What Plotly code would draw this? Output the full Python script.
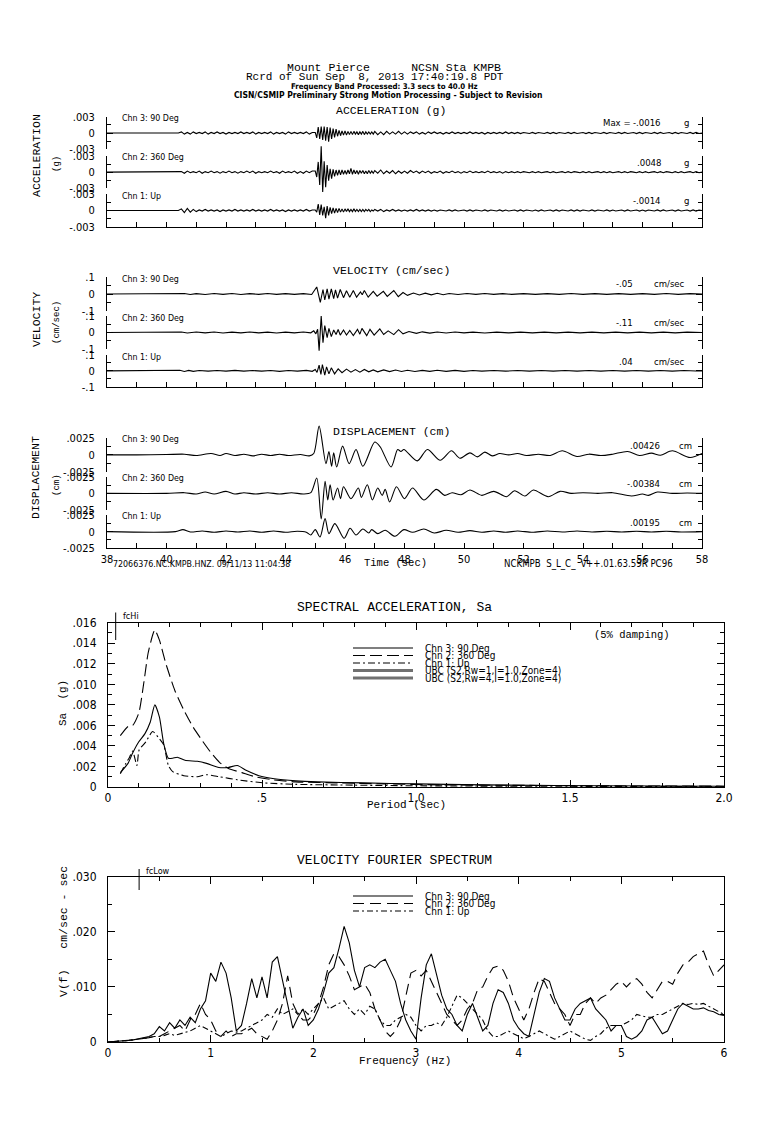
import numpy as np
import plotly.graph_objects as go

# ======================= DATA =======================
CHANNELS = ["Chn 3: 90 Deg", "Chn 2: 360 Deg", "Chn 1: Up"]
ACC_MAX = ["-.0016", ".0048", "-.0014"]
VEL_MAX = ["-.05", "-.11", ".04"]
DISP_MAX = [".00426", "-.00384", ".00195"]

ACC_UNIT = 1e-4    # g per listed unit
VEL_UNIT = 1e-3    # cm/sec per listed unit
DISP_UNIT = 1e-4   # cm per listed unit
VFS_UNIT = 1e-3    # cm/sec-sec per listed unit

# acceleration: three uniformly sampled pieces (start time, step)
ACC_PRE_T0, ACC_PRE_DT = 38.0, 0.1
ACC_BURST_T0, ACC_BURST_DT = 45.0, 0.05
ACC_POST_T0, ACC_POST_DT = 47.0, 0.1

ACC_CH3_PRE = [0, 0, 0, 0, 0, 0, 0, 0, 0, 0, 0, 0, 0, 0, 0, 0, 0, 0, 0, 0, 0, 0, 0, 0, 0,
               2, -2, 1, -2, 2, -1, 1, -1, 2, -2,
               1, -1, 2, -1, 1, -2, 1, -1, 1, -1,
               2, -1, 1, -1, 2, -2, 1, -1, 1, -1,
               2, -2, 1, -1, 1, -2, 2, -1, 1, -1,
               1, -1, 2, -2, 1]
ACC_CH3_BURST = [1, -9, 11, -11, 12, -13, 12, -14, 11, -16,
                 10, -11, 8, -8, 7, -6, 5, -5, 4, -4,
                 4, -4, 3, -3, 3, -3, 3, -2, 2, -3,
                 2, -2, 3, -3, 2, -2, 2, -2, 2, -2]
ACC_CH3_POST = [3, -3, 2, -3, 3, -2, 2, -2, 3, -2,
                2, -2, 2, -1, 2, -2, 1, -2, 2, -1,
                2, -1, 1, -2, 1, -1, 2, -1, 1, -1,
                1, -1, 2, -1, 1, -1, 1, -2, 1, -1,
                1, -1, 1, -1, 2, -1, 1, -1, 1, -1,
                1, 0, -1, 1, -1, 1, 0, -1, 1, -1,
                1, -1, 1, 0, -1, 1, -1, 1, -1, 0,
                1, -1, 1, -1, 1, 0, -1, 1, -1, 1,
                0, -1, 1, -1, 1, -1, 0, 1, -1, 1,
                -1, 1, 0, -1, 1, -1, 1, -1, 0, 1,
                -1, 1, -1, 1, 0, -1, 1, -1, 1, -1,
                0]

ACC_CH2_PRE = [0, 0, 0, 0, 0, 0, 0, 0, 0, 0, 0, 0, 0, 0, 0, 0, 0, 0, 0, 0, 0, 0, 0, 0, 0,
               1, -2, 2, -1, 1, -1, 2, -2, 1, -1,
               2, -1, 1, -2, 1, -1, 2, -1, 1, -2,
               1, -1, 2, -1, 2, -2, 1, -1, 1, -1,
               2, -1, 1, -2, 2, -1, 1, -1, 2, -2,
               1, -2, 2, -1, 2]
ACC_CH2_BURST = [2, -9, 19, -24, 48, -37, 20, -28, 13, -16,
                 6, -12, 5, -8, 4, -6, 4, -5, 4, -4,
                 3, -4, 4, -3, 7, -4, 4, -3, 3, -4,
                 3, -2, 3, -3, 2, -3, 3, -2, 2, -2]
ACC_CH2_POST = [3, -2, 4, -3, 2, -2, 3, -3, 2, -2,
                2, -2, 3, -1, 2, -2, 2, -1, 2, -2,
                1, -1, 2, -2, 1, -1, 2, -1, 1, -2,
                1, -1, 2, -1, 1, -1, 1, -1, 2, -1,
                1, -1, 1, -2, 1, -1, 1, -1, 1, -1,
                1, 0, -1, 1, -1, 1, -1, 0, 1, -1,
                1, -1, 0, 1, -1, 1, -1, 1, 0, -1,
                1, -1, 1, -1, 0, 1, -1, 1, -1, 1,
                -1, 0, 1, -1, 1, -1, 1, 0, -1, 1,
                -1, 1, -1, 0, 1, -1, 1, -1, 1, 0,
                -1, 1, -1, 1, -1, 0, 1, -1, 1, -1,
                0]

ACC_CH1_PRE = [0, 0, 0, 0, 0, 0, 0, 0, 0, 0, 0, 0, 0, 0, 0, 0, 0, 0, 0, 0, 0, 0, 0, 0, 0,
               3, -4, 4, -3, 2, -2, 1, -1, 2, -1,
               1, -1, 1, -2, 1, -1, 1, -1, 2, -1,
               1, -1, 1, -1, 2, -1, 1, -1, 1, -1,
               2, -1, 1, -1, 1, -2, 1, -1, 1, -1,
               1, -1, 2, -1, 1]
ACC_CH1_BURST = [1, -3, 12, -8, 11, -9, 7, -14, 8, -9,
                 6, -6, 5, -5, 4, -4, 4, -3, 3, -3,
                 3, -2, 3, -2, 2, -2, 3, -2, 2, -2,
                 2, -2, 2, -2, 2, -1, 2, -2, 1, -1]
ACC_CH1_POST = [2, -1, 2, -2, 1, -1, 2, -1, 1, -1,
                1, -1, 1, -1, 2, -1, 1, -1, 1, -1,
                1, -1, 1, 0, -1, 1, -1, 1, -1, 0,
                1, -1, 1, -1, 1, 0, -1, 1, -1, 1,
                0, -1, 1, -1, 1, -1, 0, 1, -1, 1,
                -1, 1, 0, -1, 1, -1, 1, -1, 0, 1,
                -1, 1, -1, 1, 0, -1, 1, -1, 1, -1,
                1, 0, -1, 1, -1, 1, 0, -1, 1, -1,
                1, -1, 0, 1, -1, 1, -1, 0, 1, -1,
                1, -1, 1, 0, -1, 1, -1, 1, -1, 0,
                1, -1, 1, -1, 0, 1, -1, 1, -1, 1,
                0]

# velocity: (time sec, value) turning points
VEL_CH3 = [(38.0, 0), (40.4, 0), (40.6, 3), (40.8, -3), (41.0, 2), (41.3, -3), (41.6, 3), (41.9, -2),
           (42.2, 3), (42.5, -3), (42.8, 2), (43.1, -2), (43.4, 3), (43.7, -2), (44.0, 2), (44.3, -2),
           (44.6, 2), (44.88, -3), (45.05, 42), (45.17, -50), (45.26, 27), (45.32, -36), (45.40, 31),
           (45.46, -31), (45.54, 31), (45.62, -28), (45.68, 25), (45.75, -25), (45.84, 27), (45.95, -22),
           (46.05, 19), (46.16, -19), (46.28, 21), (46.39, -19), (46.52, 12), (46.58, -5), (46.65, 21),
           (46.78, -19), (46.95, 16), (47.08, -13), (47.29, 16), (47.42, -14), (47.64, 21), (47.79, -16),
           (47.95, 9), (48.1, -8), (48.3, 6), (48.5, -6), (48.7, 5), (48.9, -5), (49.1, 4), (49.3, -4),
           (49.5, 3), (49.8, -3), (50.1, 3), (50.4, -2), (50.7, 3), (51.0, -2), (51.3, 2), (51.6, -2),
           (52.0, 2), (52.4, -2), (52.8, 2), (53.2, -2), (53.6, 3), (54.0, -2), (54.4, 2), (54.8, -2),
           (55.2, 2), (55.6, -2), (56.0, 2), (56.4, -2), (56.8, 3), (57.2, -2), (57.6, 2), (58.0, 0)]
VEL_CH2 = [(38.0, 0), (40.3, 0), (40.5, 3), (40.7, -3), (41.0, 3), (41.3, -2), (41.6, 3), (41.9, -3),
           (42.2, 2), (42.5, -2), (42.8, 3), (43.1, -2), (43.4, 2), (43.7, -3), (44.0, 2), (44.3, -2),
           (44.6, 3), (44.85, -2), (44.95, 10), (45.02, -8), (45.08, 20), (45.13, -110), (45.20, 100),
           (45.26, -62), (45.32, 42), (45.40, -31), (45.46, 25), (45.54, -25), (45.62, 15), (45.70, -12),
           (45.77, 18), (45.84, -16), (45.95, 15), (46.05, -15), (46.16, 12), (46.28, -18), (46.42, 19),
           (46.50, -10), (46.57, 25), (46.73, -19), (46.84, 19), (46.98, -16), (47.17, 22), (47.30, -12),
           (47.45, 10), (47.64, -13), (47.80, 17), (47.95, -8), (48.15, 6), (48.4, -5), (48.6, 4),
           (48.85, -4), (49.1, 3), (49.4, -3), (49.7, 3), (50.0, -2), (50.3, 2), (50.7, -3), (51.1, 2),
           (51.5, -2), (51.9, 2), (52.3, -2), (52.7, 2), (53.1, -2), (53.5, 2), (53.9, -2), (54.3, 2),
           (54.7, -2), (55.1, 2), (55.5, -2), (55.9, 2), (56.3, -2), (56.7, 2), (57.1, -2), (57.5, 2),
           (58.0, 0)]
VEL_CH1 = [(38.0, 0), (40.3, 0), (40.45, 4), (40.6, -4), (40.75, 3), (40.9, -3), (41.1, 2), (41.4, -2),
           (41.7, 2), (42.0, -2), (42.3, 3), (42.6, -2), (42.9, 2), (43.2, -2), (43.5, 2), (43.8, -3),
           (44.1, 2), (44.4, -2), (44.7, 3), (44.9, -3), (45.0, 8), (45.06, -10), (45.13, 36),
           (45.19, -23), (45.24, 40), (45.32, -27), (45.38, 25), (45.46, -19), (45.54, 19), (45.65, -19),
           (45.77, 12), (45.90, -12), (46.05, 11), (46.2, -8), (46.35, 8), (46.5, -8), (46.65, 9),
           (46.8, -6), (46.95, 6), (47.1, -6), (47.3, 6), (47.5, -5), (47.7, 5), (47.9, -4), (48.1, 4),
           (48.35, -4), (48.6, 3), (48.85, -3), (49.1, 4), (49.4, -3), (49.7, 3), (50.0, -3), (50.3, 2),
           (50.6, -2), (51.0, 2), (51.4, -2), (51.8, 2), (52.2, -2), (52.6, 2), (53.0, -2), (53.4, 2),
           (53.8, -2), (54.2, 2), (54.6, -2), (55.0, 2), (55.4, -2), (55.8, 2), (56.2, -2), (56.6, 2),
           (57.0, -2), (57.4, 2), (57.8, -1), (58.0, 0)]

# displacement: (time sec, value) turning points
DISP_CH3 = [(38.0, 0), (39.0, 0), (40.0, 0.5), (40.6, 1), (41.0, -1), (41.5, 2), (41.8, -1), (42.0, 2),
            (42.3, -1), (42.6, 1), (42.9, -1.5), (43.2, 1), (43.5, -1), (43.8, 1), (44.1, -1), (44.5, 0.5),
            (44.8, -1.5), (44.95, 2), (45.13, 42.6), (45.36, -13), (45.46, 5), (45.55, -17), (45.62, 3),
            (45.72, -18), (45.92, 13), (46.14, -13), (46.37, 8), (46.6, -17), (47.0, 19), (47.18, 12),
            (47.55, -18), (47.77, 8), (47.88, 5), (47.98, 8), (48.43, -9), (48.77, 8), (49.2, -8),
            (49.58, 6), (49.86, -5), (50.2, 3), (50.45, -3), (50.7, 4), (50.95, -1.5), (51.2, 2),
            (51.5, 0), (51.8, 2), (52.1, -1), (52.5, 1), (52.9, -1), (53.3, 6), (53.8, -2.5), (54.2, 1),
            (54.6, -1), (55.0, 1), (55.5, 5), (55.9, -1), (56.3, 2.5), (56.6, -0.5), (57.0, 6),
            (57.6, -4), (58.0, 2)]
DISP_CH2 = [(38.0, 0), (40.0, 0), (40.6, 1), (41.0, -1), (41.3, 2), (41.6, -1), (42.0, 3), (42.3, -1),
            (42.6, 1), (43.0, -1), (43.4, 1), (43.8, -1), (44.2, 1), (44.6, -1), (44.85, 1), (45.05, 23),
            (45.2, -38.4), (45.33, 18), (45.42, -10), (45.5, 13), (45.6, -10), (45.75, 8), (45.85, -8),
            (45.95, 10), (46.2, -8), (46.45, 8), (46.55, -6), (46.75, 13), (46.92, -10), (47.1, 8),
            (47.25, -3), (47.35, 6), (47.5, -13), (47.73, 10), (48.0, -8), (48.27, 8), (48.65, -10),
            (49.07, 6), (49.35, -3), (49.6, 1), (49.9, -2), (50.2, 5), (50.6, -3), (51.0, 3),
            (51.43, -5), (51.7, 4), (52.05, -4), (52.33, 5), (52.83, -5), (53.23, 3), (53.6, 0),
            (54.0, 1), (54.5, 0), (55.0, 1), (55.63, -4), (56.0, -1), (56.2, -3), (56.5, 2),
            (57.0, 0), (57.5, 0.5), (58.0, 0)]
DISP_CH1 = [(38.0, 0), (40.3, 0), (40.55, 3), (40.8, -0.5), (41.2, 1), (41.6, -1), (42.0, 1), (42.4, -0.5),
            (42.8, 1), (43.2, -1), (43.6, 1), (44.0, -1), (44.4, 0.5), (44.7, -1), (44.85, -5), (45.0, 3),
            (45.16, -8), (45.33, 19.5), (45.46, -3), (45.66, 12), (45.97, -10), (46.17, 5), (46.37, -5),
            (46.6, 4), (46.8, -2), (46.9, 3), (47.1, -3), (47.35, 2), (47.68, -7), (47.98, 3),
            (48.27, -1), (48.65, 4), (49.0, -2), (49.4, 2), (49.8, -1), (50.2, 1.5), (50.6, -1),
            (51.0, 1), (51.4, -1), (51.8, 1), (52.3, -1), (52.8, 1), (53.3, -0.5), (53.8, 1),
            (54.3, -0.5), (54.8, 0.5), (55.3, -0.5), (55.8, 0.5), (56.3, -0.5), (56.8, 0.5),
            (57.3, -0.5), (58.0, 0)]

# spectral acceleration (period sec, Sa g)
SA_T_CH3 = [0.04, 0.065, 0.08, 0.1, 0.12, 0.137, 0.152, 0.167, 0.181, 0.196, 0.21, 0.225, 0.25, 0.29,
            0.32, 0.36, 0.39, 0.42, 0.45, 0.49, 0.54, 0.61, 0.68, 0.83, 1.0, 1.3, 1.6, 2.0]
SA_CH3 = [.0014, .0023, .0033, .0044, .0052, .0063, .0080, .0068, .0042, .0028, .0028, .0029, .0026,
          .0025, .0023, .0019, .0019, .0021, .0016, .0011, .0008, .0006, .0005, .0004, .0003, .00018,
          .00012, .00008]
SA_T_CH2 = [0.04, 0.065, 0.08, 0.1, 0.116, 0.13, 0.145, 0.152, 0.167, 0.188, 0.217, 0.246, 0.275, 0.304,
            0.333, 0.362, 0.391, 0.435, 0.478, 0.536, 0.609, 0.75, 0.9, 1.1, 1.4, 1.7, 2.0]
SA_CH2 = [.0050, .0059, .0060, .0072, .0101, .0130, .0148, .0153, .0143, .0120, .0094, .0075, .0059,
          .0046, .0034, .0024, .0018, .0014, .0010, .0007, .0005, .0004, .0003, .0002, .00015, .0001,
          .00008]
SA_T_CH1 = [0.04, 0.058, 0.07, 0.08, 0.094, 0.101, 0.123, 0.145, 0.167, 0.181, 0.196, 0.21, 0.246,
            0.29, 0.319, 0.362, 0.42, 0.507, 0.609, 0.8, 1.0, 1.3, 1.6, 2.0]
SA_CH1 = [.0013, .0023, .0029, .0035, .0021, .0036, .0044, .0054, .0047, .0041, .0021, .0015, .0011,
          .0010, .0012, .0010, .0007, .0004, .00026, .00018, .00012, .00008, .00006, .00004]
SA_LEGEND = ["Chn 3: 90 Deg", "Chn 2: 360 Deg", "Chn 1: Up",
             "UBC (S2,Rw=1,I=1.0,Zone=4)", "UBC (S2,Rw=4,I=1.0,Zone=4)"]
FC_HI = 1 / 40.0      # sec
FC_LOW = 1 / 3.3      # Hz

# velocity Fourier spectrum, sampled every 0.05 Hz from 0 to 6 Hz
VFS_FREQ = np.round(np.arange(0, 6.0001, 0.05), 2)
VFS_CH3 = [0, 0.05, 0.1, 0.2, 0.3, 0.4, 0.6, 0.8, 1.0, 1.5,
           2.8, 2.0, 3.5, 2.5, 4.0, 3.0, 4.5, 3.5, 6.0, 7.5,
           12.5, 11.0, 14.5, 12.5, 8.0, 2.0, 3.0, 7.0, 11.5, 8.0,
           11.8, 8.0, 14.5, 15.5, 11.0, 6.5, 2.5, 4.5, 6.0, 3.0,
           4.0, 6.0, 9.0, 12.5, 13.5, 17.0, 21.0, 18.0, 13.0, 10.0,
           13.5, 14.0, 13.5, 14.5, 15.0, 13.0, 11.0, 7.0, 4.0, 2.0,
           0.5, 8.0, 14.0, 16.0, 12.0, 8.5, 6.0, 5.0, 3.0, 2.0,
           5.0, 7.0, 4.5, 2.0, 3.0, 7.0, 9.5, 9.0, 7.0, 4.0,
           2.5, 1.5, 1.0, 5.0, 9.0, 11.5, 11.0, 8.0, 6.0, 4.0,
           4.0, 6.0, 7.0, 7.5, 8.0, 6.0, 5.0, 4.0, 2.0, 3.0,
           3.0, 1.0, 0.5, 1.0, 2.0, 4.0, 4.5, 3.0, 1.5, 2.0,
           4.0, 6.0, 7.0, 6.5, 6.0, 6.0, 6.2, 5.7, 5.5, 5.0,
           4.8]
VFS_CH2 = [0, 0.05, 0.1, 0.2, 0.3, 0.4, 0.5, 0.7, 0.8, 1.0,
           1.0, 1.5, 2.0, 2.5, 3.0, 2.0, 4.0, 5.0, 7.0, 5.0,
           4.0, 2.0, 1.0, 2.0, 1.0, 1.5, 1.5, 2.0, 2.5, 1.5,
           1.0, 0.5, 2.0, 4.0, 7.0, 12.0, 7.0, 5.0, 4.0, 4.0,
           5.0, 7.0, 10.0, 14.0, 16.0, 15.5, 14.0, 12.0, 9.5, 10.0,
           10.5, 9.0, 6.0, 4.0, 2.0, 1.0, 2.0, 4.0, 8.0, 12.5,
           13.0, 12.0, 13.0, 11.0, 9.0, 7.0, 5.0, 4.0, 3.0, 4.0,
           6.0, 7.0, 9.5, 10.0, 12.0, 13.5, 13.8, 13.0, 11.0, 8.0,
           6.0, 4.0, 6.0, 9.0, 11.5, 11.0, 9.0, 7.0, 6.0, 5.0,
           3.0, 5.0, 5.0, 7.0, 8.0, 7.0, 8.0, 8.5, 9.5, 10.5,
           11.0, 10.0, 11.0, 11.5, 10.5, 9.0, 8.0, 9.5, 11.0, 11.0,
           10.5, 12.5, 14.0, 14.5, 15.5, 16.0, 16.5, 14.0, 12.0, 13.0,
           14.0]
VFS_CH1 = [0, 0.05, 0.1, 0.2, 0.3, 0.4, 0.5, 0.6, 0.8, 1.0,
           1.0, 1.2, 1.5, 1.2, 1.5, 1.8, 2.0, 2.5, 3.0, 2.5,
           2.0, 1.5, 1.0, 1.5, 2.0, 1.8, 2.0, 2.5, 3.0, 3.5,
           4.0, 5.0, 4.5, 6.0, 5.0, 5.5, 6.0, 5.0, 6.0, 5.0,
           6.0, 7.0, 8.0, 6.0, 6.5, 7.0, 7.5, 6.0, 5.0, 6.0,
           5.0, 6.5, 6.0, 4.0, 3.0, 3.0, 4.0, 4.5, 5.0, 4.5,
           3.0, 2.0, 3.0, 3.0, 3.5, 3.0, 4.5, 6.5, 8.5, 8.0,
           7.0, 6.0, 5.0, 4.0, 2.0, 1.0, 1.0, 1.5, 2.0, 1.5,
           1.0, 0.6, 1.0, 1.5, 2.0, 1.5, 1.0, 0.5, 1.0, 1.5,
           2.0, 1.5, 1.0, 0.5, 0.3, 1.0, 1.5, 2.5, 3.0, 3.0,
           3.0, 3.5, 4.0, 5.0, 4.8, 4.5, 4.5, 5.0, 5.0, 5.5,
           6.0, 6.5, 7.0, 6.8, 7.0, 6.8, 7.0, 6.5, 6.0, 5.5,
           5.0]
VFS_LEGEND = ["Chn 3: 90 Deg", "Chn 2: 360 Deg", "Chn 1: Up"]

# ======================= LAYOUT / STYLE =======================
W, H = 784, 1145
MONO = "Liberation Mono, DejaVu Sans Mono, monospace"
NARROW = "Liberation Sans Narrow, DejaVu Sans Condensed, Arial Narrow, Liberation Sans, sans-serif"
INK = "black"


def xp(px):
    return px / W


def yp(py):
    return 1 - py / H


def dom(top, bot):
    return [max(0.0, 1 - bot / H), min(1.0, 1 - top / H)]


PANEL_ROWS = [(116.7, 149.3), (156.0, 188.3), (194.3, 226.7),
              (277.3, 310.7), (316.0, 349.0), (355.0, 386.7),
              (438.0, 471.7), (476.7, 510.0), (515.0, 548.3)]
GROUP_RANGE = [0.003, 0.1, 0.0025]
GROUP_TICKTEXT = [["-.003", "0", ".003"], ["-.1", "0", ".1"], ["-.0025", "0", ".0025"]]
XDOM_SEIS = [107 / W, 702 / W]
XDOM_SPEC = [108 / W, 724 / W]
EXT = 24


def seg_times(t0, dt, n):
    return [round(t0 + i * dt, 3) for i in range(n)]


def acc_series(pre, burst, post):
    t = (seg_times(ACC_PRE_T0, ACC_PRE_DT, len(pre)) + seg_times(ACC_BURST_T0, ACC_BURST_DT, len(burst))
         + seg_times(ACC_POST_T0, ACC_POST_DT, len(post)))
    v = [a * ACC_UNIT for a in pre + burst + post]
    return t, v


def pair_series(pairs, unit):
    return [p[0] for p in pairs], [p[1] * unit for p in pairs]


series = [acc_series(ACC_CH3_PRE, ACC_CH3_BURST, ACC_CH3_POST),
          acc_series(ACC_CH2_PRE, ACC_CH2_BURST, ACC_CH2_POST),
          acc_series(ACC_CH1_PRE, ACC_CH1_BURST, ACC_CH1_POST),
          pair_series(VEL_CH3, VEL_UNIT), pair_series(VEL_CH2, VEL_UNIT), pair_series(VEL_CH1, VEL_UNIT),
          pair_series(DISP_CH3, DISP_UNIT), pair_series(DISP_CH2, DISP_UNIT), pair_series(DISP_CH1, DISP_UNIT)]

fig = go.Figure()
layout = dict(width=W, height=H, autosize=False,
              margin=dict(l=0, r=0, t=0, b=0, pad=0, autoexpand=False),
              paper_bgcolor="white", plot_bgcolor="rgba(0,0,0,0)", showlegend=False)

X_NAMES = ["x", "x2", "x3"]
tickfont_small = dict(family=NARROW, size=11, color=INK)

for i, (top, bot) in enumerate(PANEL_ROWS):
    g = i // 3
    R = GROUP_RANGE[g]
    fy, dy = i + 1, i + 12
    fkey = "yaxis" if fy == 1 else f"yaxis{fy}"
    fref = "y" if fy == 1 else f"y{fy}"
    layout[fkey] = dict(domain=dom(top, bot), range=[-R, R], anchor=X_NAMES[g], showline=True,
                        linecolor=INK, linewidth=1, mirror="ticks", ticks="inside", ticklen=6,
                        tickwidth=1, tickcolor=INK, tickmode="array", tickvals=[-R, 0, R],
                        ticktext=GROUP_TICKTEXT[g], tickfont=tickfont_small, showgrid=False,
                        zeroline=False, fixedrange=True, ticklabelstandoff=9, automargin=False,
                        minor=dict(tickvals=[-R / 2, R / 2], ticks="inside", ticklen=4, tickcolor=INK))
    half = (bot - top) / 2
    k = (half + EXT) / half
    layout[f"yaxis{dy}"] = dict(domain=dom(top - EXT, bot + EXT), range=[-R * k, R * k], visible=False,
                                fixedrange=True, anchor=X_NAMES[g], automargin=False)
    fig.add_trace(go.Scatter(x=[38], y=[0], xaxis=X_NAMES[g], yaxis=fref, mode="markers",
                             marker=dict(opacity=0), hoverinfo="skip"))
    t, v = series[i]
    shape = "spline" if g == 2 else "linear"
    fig.add_trace(go.Scatter(x=t, y=v, xaxis=X_NAMES[g], yaxis=f"y{dy}", mode="lines",
                             line=dict(color=INK, width=1.1, shape=shape, smoothing=0.8),
                             hoverinfo="skip"))

for g, xn in enumerate(X_NAMES):
    key = "xaxis" if g == 0 else f"xaxis{g + 1}"
    secs = list(range(38, 59))
    layout[key] = dict(domain=XDOM_SEIS, range=[38, 58], anchor=f"y{3 * g + 3}", showline=True,
                       linecolor=INK, linewidth=1, ticks="inside", ticklen=5, tickcolor=INK,
                       tickmode="array", tickvals=secs,
                       ticktext=[str(s) if s % 2 == 0 else "" for s in secs],
                       showticklabels=(g == 2), tickfont=tickfont_small, showgrid=False,
                       zeroline=False, fixedrange=True, automargin=False)

# ---- spectral acceleration ----
sa_dash = ["solid", "12px,5px", "7px,3px,2px,3px"]
for tt, vv, d in [(SA_T_CH3, SA_CH3, sa_dash[0]), (SA_T_CH2, SA_CH2, sa_dash[1]), (SA_T_CH1, SA_CH1, sa_dash[2])]:
    fig.add_trace(go.Scatter(x=tt, y=vv, xaxis="x4", yaxis="y10", mode="lines",
                             line=dict(color=INK, width=1.1, dash=d, shape="spline", smoothing=0.6),
                             hoverinfo="skip"))
layout["xaxis4"] = dict(domain=XDOM_SPEC, range=[0, 2], anchor="y10", showline=True, linecolor=INK,
                        mirror="ticks", ticks="inside", ticklen=7, tickcolor=INK, tickmode="array",
                        tickvals=[0, 0.5, 1.0, 1.5, 2.0], ticktext=["0", ".5", "1.0", "1.5", "2.0"],
                        tickfont=dict(family=NARROW, size=12, color=INK), showgrid=False, zeroline=False,
                        fixedrange=True, automargin=False,
                        minor=dict(tickvals=[round(0.1 * j, 1) for j in range(21)], ticks="inside",
                                   ticklen=4, tickcolor=INK))
sa_ticks = [0.002 * j for j in range(9)]
layout["yaxis10"] = dict(domain=dom(622.7, 787), range=[0, 0.016], anchor="x4", showline=True,
                         linecolor=INK, mirror="ticks", ticks="inside", ticklen=7, tickcolor=INK,
                         tickmode="array", tickvals=sa_ticks,
                         ticktext=["0"] + [("%.3f" % v)[1:] for v in sa_ticks[1:]],
                         tickfont=dict(family=NARROW, size=12, color=INK), showgrid=False,
                         zeroline=False, fixedrange=True, ticklabelstandoff=8, automargin=False,
                         minor=dict(tickvals=[0.001 * j for j in range(17)], ticks="inside", ticklen=4,
                                    tickcolor=INK))

# ---- velocity Fourier spectrum ----
vfs_dash = ["solid", "11px,6px", "6px,3px,2px,3px"]
for vv, d in [(VFS_CH3, vfs_dash[0]), (VFS_CH2, vfs_dash[1]), (VFS_CH1, vfs_dash[2])]:
    fig.add_trace(go.Scatter(x=VFS_FREQ, y=[a * VFS_UNIT for a in vv], xaxis="x5", yaxis="y11",
                             mode="lines", line=dict(color=INK, width=1.1, dash=d), hoverinfo="skip"))
layout["xaxis5"] = dict(domain=XDOM_SPEC, range=[0, 6], anchor="y11", showline=True, linecolor=INK,
                        mirror="ticks", ticks="inside", ticklen=7, tickcolor=INK, tickmode="array",
                        tickvals=list(range(7)), ticktext=[str(j) for j in range(7)],
                        tickfont=dict(family=NARROW, size=12, color=INK), showgrid=False, zeroline=False,
                        fixedrange=True, automargin=False,
                        minor=dict(tickvals=[0.5 * j for j in range(13)], ticks="inside", ticklen=4,
                                   tickcolor=INK))
layout["yaxis11"] = dict(domain=dom(876.7, 1042), range=[0, 0.03], anchor="x5", showline=True,
                         linecolor=INK, mirror="ticks", ticks="inside", ticklen=7, tickcolor=INK,
                         tickmode="array", tickvals=[0, 0.01, 0.02, 0.03],
                         ticktext=["0", ".010", ".020", ".030"],
                         tickfont=dict(family=NARROW, size=12, color=INK), showgrid=False,
                         zeroline=False, fixedrange=True, ticklabelstandoff=8, automargin=False,
                         minor=dict(tickvals=[0.005 * j for j in range(7)], ticks="inside", ticklen=4,
                                    tickcolor=INK))

# ======================= TEXT =======================
ann = []


def A(text, x, y, size, family=MONO, xanchor="center", angle=0, **kw):
    ann.append(dict(text=text, x=xp(x), y=yp(y), xref="paper", yref="paper", showarrow=False,
                    xanchor=xanchor, yanchor="middle", textangle=angle,
                    font=dict(family=family, size=size, color=INK), **kw))


NB = "\u00a0"
A("Mount Pierce" + NB * 6 + "NCSN Sta KMPB", 394, 67, 11.5)
A("Rcrd of Sun Sep" + NB * 2 + "8, 2013 17:40:19.8 PDT", 375, 77, 11)
A("<b>Frequency Band Processed: 3.3 secs to 40.0 Hz</b>", 384, 86, 7.8, NARROW)
A("<b>CISN/CSMIP Preliminary Strong Motion Processing - Subject to Revision</b>", 388, 94.5, 8.5, NARROW)
A("ACCELERATION (g)", 391, 110, 11.5)
A("VELOCITY (cm/sec)", 391, 270.5, 11.5)
A("DISPLACEMENT (cm)", 391, 431, 11.5)

A("ACCELERATION", 36, 156, 11.5, angle=-90)
A("(g)", 57, 164, 9, angle=-90)
A("VELOCITY", 36, 320, 11.5, angle=-90)
A("(cm/sec)", 57, 323, 9, angle=-90)
A("DISPLACEMENT", 36, 478, 11.5, angle=-90)
A("(cm)", 57, 485, 9, angle=-90)

for i, (top, bot) in enumerate(PANEL_ROWS):
    A(CHANNELS[i % 3], 120, top + 1.5, 8.8, NARROW, xanchor="left")
for j in range(3):
    top = PANEL_ROWS[j][0]
    if j == 0:
        A("Max =", 601, top + 6, 9.5, NARROW, xanchor="left")
    A(ACC_MAX[j], 663, top + 6, 9.5, NARROW, xanchor="right")
    A("g", 682, top + 6, 9.5, NARROW, xanchor="left")
for j in range(3):
    top = PANEL_ROWS[3 + j][0]
    A(VEL_MAX[j], 635, top + 6.5, 9.5, NARROW, xanchor="right")
    A("cm/sec", 652, top + 6.5, 9.5, NARROW, xanchor="left")
for j in range(3):
    top = PANEL_ROWS[6 + j][0]
    A(DISP_MAX[j], 662, top + 7, 9.5, NARROW, xanchor="right")
    A("cm", 677, top + 7, 9.5, NARROW, xanchor="left")

A("Time (sec)", 396, 563, 10.5)
A("72066376.NC.KMPB.HNZ. 09/11/13 11:04:38", 111, 564, 8.8, NARROW, xanchor="left")
A("NCKMPB" + NB * 2 + "S_L_C_" + NB * 2 + "v++.01.63.59R PC96", 502, 564, 9.6, NARROW, xanchor="left")

# spectral acceleration texts
A("SPECTRAL ACCELERATION, Sa", 394, 607, 13)
A("(5% damping)", 632, 635, 10.5)
A("Sa  (g)", 63, 703, 11, angle=-90)
A("Period (sec)", 406, 805, 11)
SA_LEG_Y = [648, 655.5, 663, 670.5, 678]
for txt, yy in zip(SA_LEGEND, SA_LEG_Y):
    A(txt, 423, yy, 10, NARROW, xanchor="left")
A("fcHi", 121, 616, 9, NARROW, xanchor="left")

# VFS texts
A("VELOCITY FOURIER SPECTRUM", 394, 860, 13)
A("V(f)" + NB * 3 + "cm/sec - sec", 63, 932, 11.5, angle=-90)
A("Frequency (Hz)", 405, 1061, 11)
VFS_LEG_Y = [896, 903.5, 911]
for txt, yy in zip(VFS_LEGEND, VFS_LEG_Y):
    A(txt, 423, yy, 10, NARROW, xanchor="left")
A("fcLow", 144, 871, 9, NARROW, xanchor="left")

# legend line samples and cutoff markers
shapes = []


def L(x0, x1, y, dash, color=INK, width=1.1):
    shapes.append(dict(type="line", xref="paper", yref="paper", x0=xp(x0), x1=xp(x1), y0=yp(y), y1=yp(y),
                       line=dict(color=color, width=width, dash=dash)))


for yy, d in zip(SA_LEG_Y[:3], sa_dash):
    L(353, 413, yy, d)
for yy in SA_LEG_Y[3:]:
    L(353, 413, yy, "solid", color="#707070", width=3)
for yy, d in zip(VFS_LEG_Y, vfs_dash):
    L(353, 413, yy, d)

shapes.append(dict(type="line", xref="x4", yref="paper", x0=FC_HI, x1=FC_HI, y0=yp(612.5), y1=yp(640),
                   line=dict(color=INK, width=1)))
shapes.append(dict(type="line", xref="x5", yref="paper", x0=FC_LOW, x1=FC_LOW, y0=yp(869), y1=yp(890),
                   line=dict(color=INK, width=1)))

layout["annotations"] = ann
layout["shapes"] = shapes
fig.update_layout(**layout)
# the page's default 8px body margin would offset the figure inside the window
fig.write_html("out.html", config={"displayModeBar": False, "staticPlot": True},
               post_script="document.body.style.margin='0';")
